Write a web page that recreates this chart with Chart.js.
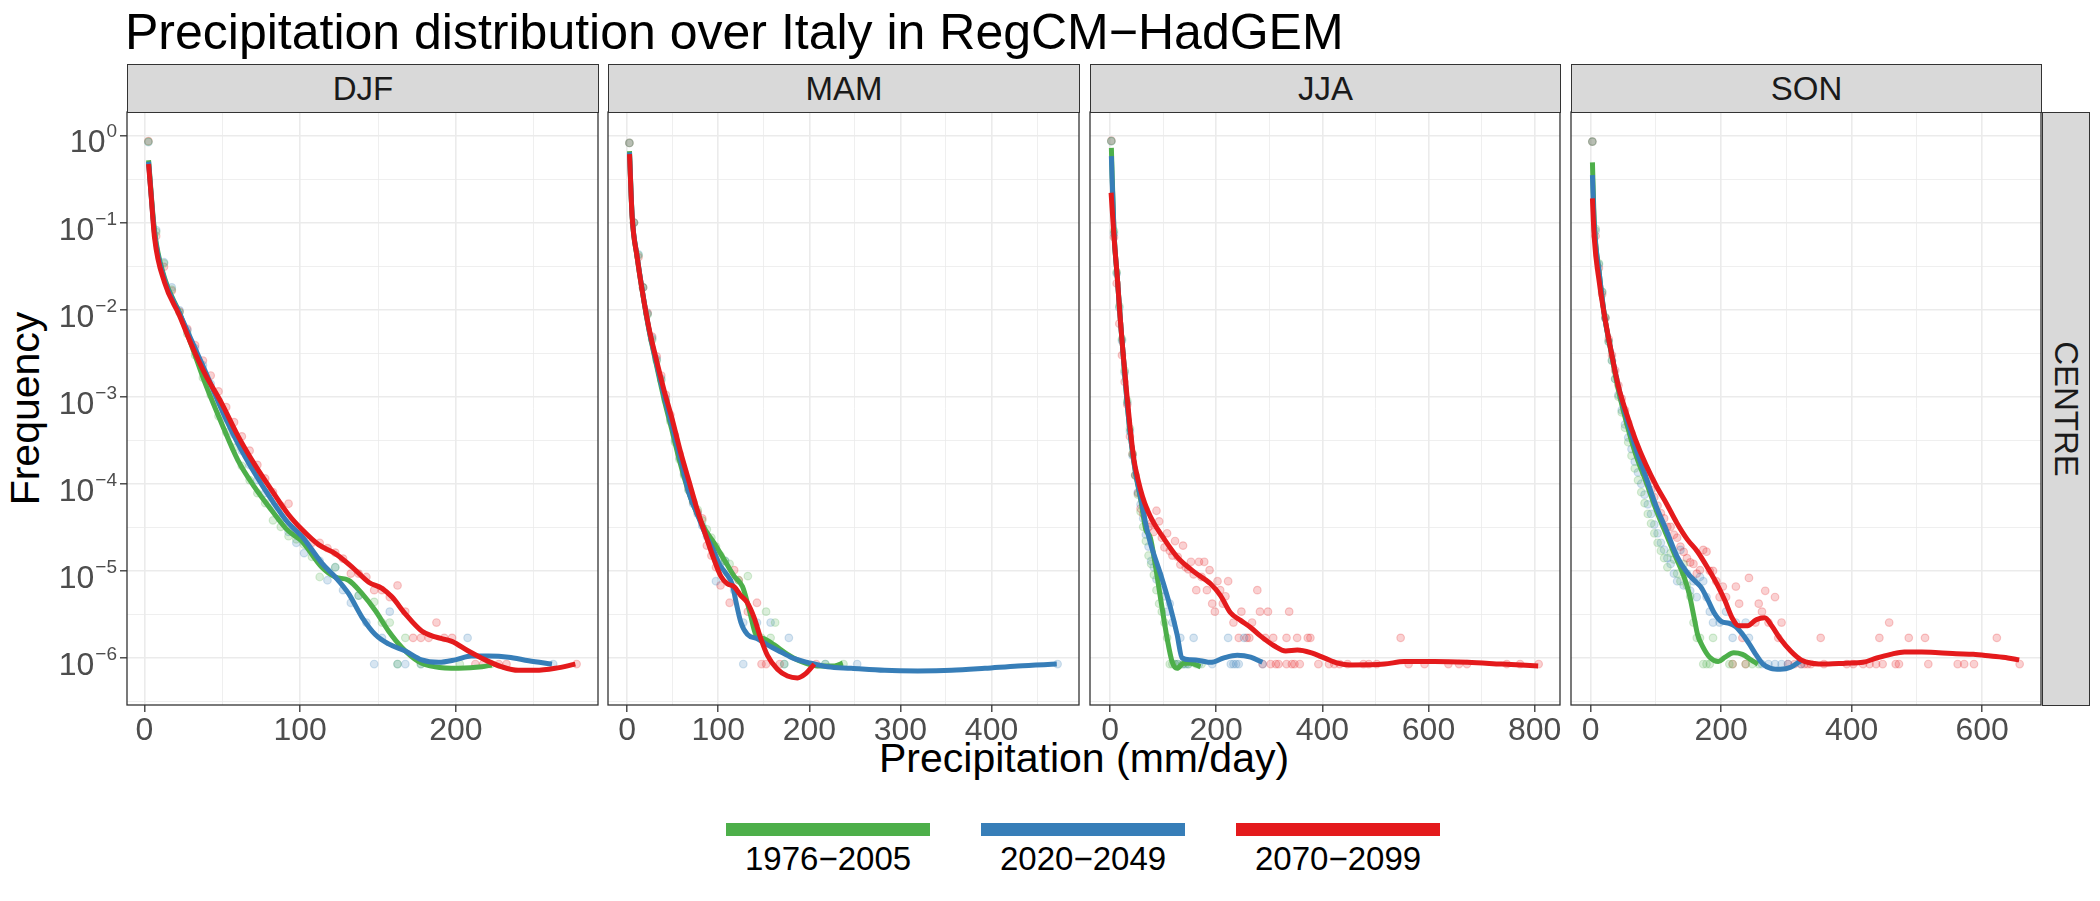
<!DOCTYPE html>
<html>
<head>
<meta charset="utf-8">
<script src="https://cdn.jsdelivr.net/npm/chart.js@4.4.1/dist/chart.umd.min.js"></script>
<style>
  body { margin: 0; background: #fff; width: 2100px; height: 901px; position: relative; overflow: hidden;
         font-family: "Liberation Sans", Arial, Helvetica, sans-serif; }
  .txt { position: absolute; white-space: nowrap; line-height: 1; }
  .strip { position: absolute; background: #d9d9d9; border: 1.3px solid #333; box-sizing: border-box;
           color: #1a1a1a; font-size: 33px; display: flex; align-items: center; justify-content: center; }
  .key { position: absolute; height: 13px; }
  canvas { position: absolute; }
</style>
</head>
<body>
<div class="txt" style="left:125px; top:7px; font-size:50px; color:#000;">Precipitation distribution over Italy in RegCM−HadGEM</div>
<div class="txt" id="ytitle" style="font-size:41px; color:#000;">Frequency</div>
<div class="txt" id="xtitle" style="font-size:41px; color:#000;">Precipitation (mm/day)</div>
<div class="strip" id="rowstrip"><span style="transform:rotate(90deg); display:inline-block;">CENTRE</span></div>

<script>
// --- données ---
const SEASONS = ["DJF", "MAM", "JJA", "SON"];
const PERIODS = ["1976−2005", "2020−2049", "2070−2099"];
const COLORS = ["#4DAF4A", "#377EB8", "#E41A1C"];
const Y_TICKS = [1, 1e-1, 1e-2, 1e-3, 1e-4, 1e-5, 1e-6];
const Y_EXPONENTS = ["0", "−1", "−2", "−3", "−4", "−5", "−6"];
const X_TICKS_DJF = [0, 100, 200];
const X_TICKS_MAM = [0, 100, 200, 300, 400];
const X_TICKS_JJA = [0, 200, 400, 600, 800];
const X_TICKS_SON = [0, 200, 400, 600];
const X_MINOR_DJF = [50, 150, 250];
const X_MINOR_MAM = [50, 150, 250, 350, 450];
const X_MINOR_JJA = [100, 300, 500, 700];
const X_MINOR_SON = [100, 300, 500];

// courbes lissées [mm/day, fréquence]
const djfGreenLine = [[2.6,0.52],[6.4,0.081],[12.9,0.0229],[22.5,0.0091],[31,3.55e-3],[38.6,1.48e-3],[49.4,5.0e-4],[60,1.86e-4],[70.8,9.1e-5],[81.5,5.0e-5],[92.3,2.88e-5],[100.9,2.2e-5],[113.9,1.1e-5],[122.5,8.5e-6],[131,7.8e-6],[139.6,5.5e-6],[148.2,3.5e-6],[156.7,2.04e-6],[165.3,1.32e-6],[176,9.1e-7],[186.7,7.9e-7],[201.7,7.6e-7],[216.7,7.9e-7],[223,8.3e-7]];
const djfBlueLine = [[2.6,0.50],[6.4,0.076],[12.9,0.0219],[22.5,0.0091],[30,4.5e-3],[38.6,2.04e-3],[49.4,7.2e-4],[60,2.9e-4],[70.8,1.32e-4],[81.5,6.6e-5],[92.3,3.55e-5],[101,2.5e-5],[113.9,1.23e-5],[122.5,8.5e-6],[131,5.5e-6],[139.6,2.95e-6],[148.2,1.86e-6],[156.7,1.45e-6],[167.5,1.2e-6],[178,9.5e-7],[188.9,8.9e-7],[199.6,9.5e-7],[210,1.05e-6],[221,1.05e-6],[233.8,1.02e-6],[246.7,9.3e-7],[261.7,8.5e-7]];
const djfRedLine = [[2.6,0.47],[4.3,0.2],[6.4,0.068],[12.9,0.0204],[22.5,0.0085],[30,4.0e-3],[38.6,1.86e-3],[49.4,8.5e-4],[60,3.55e-4],[70.8,1.66e-4],[81.5,8.5e-5],[92.3,4.47e-5],[101,3.0e-5],[111.8,2.0e-5],[122.5,1.58e-5],[133,1.12e-5],[144,7.4e-6],[152.5,6.3e-6],[159,5.0e-6],[167.5,3.2e-6],[178,2.04e-6],[186.7,1.74e-6],[197.4,1.55e-6],[208,1.2e-6],[218.8,9.5e-7],[229.5,7.9e-7],[240,7.2e-7],[251,7.2e-7],[263.8,7.6e-7],[276.7,8.5e-7]];

const mamGreenLine = [[2.6,0.66],[5.5,0.118],[11,0.040],[16.5,0.0166],[23.9,5.9e-3],[31.2,2.57e-3],[40.4,9.5e-4],[49.5,4.0e-4],[58.7,1.66e-4],[67.9,7.8e-5],[77,4.5e-5],[86.2,2.9e-5],[95.4,2.1e-5],[106.4,1.35e-5],[117.4,8.7e-6],[126.6,6.6e-6],[134,3.6e-6],[141.3,1.86e-6],[150.5,1.66e-6],[161.5,1.41e-6],[176,1.1e-6],[190.8,9.1e-7],[209,8.1e-7],[227.5,8.1e-7],[236.7,8.7e-7]];
const mamBlueLine = [[2.6,0.64],[5.5,0.12],[11,0.041],[16.5,0.017],[23.9,6.0e-3],[31.2,2.7e-3],[40.4,1.05e-3],[49.5,4.5e-4],[58.7,1.9e-4],[67.9,7.8e-5],[77,4.5e-5],[86.2,2.6e-5],[95.4,1.66e-5],[101,1.2e-5],[108,9.5e-6],[115.6,6.9e-6],[119.3,4.5e-6],[124.8,2.57e-6],[132,1.86e-6],[143,1.66e-6],[154,1.41e-6],[168.8,1.17e-6],[183.5,9.8e-7],[198,8.9e-7],[220,7.9e-7],[246,7.6e-7],[282.6,7.2e-7],[319,7.1e-7],[356,7.2e-7],[392.7,7.6e-7],[429,8.1e-7],[471.6,8.5e-7]];
const mamRedLine = [[2.6,0.61],[5.5,0.117],[11,0.040],[16.5,0.0166],[23.9,6.2e-3],[31.2,2.9e-3],[40.4,1.2e-3],[49.5,5.5e-4],[58.7,2.3e-4],[67.9,1.07e-4],[77,5.0e-5],[86.2,2.57e-5],[95.4,1.35e-5],[102.8,8.7e-6],[110,7.1e-6],[117.4,6.6e-6],[124.8,5.2e-6],[132,4.3e-6],[139.4,2.9e-6],[146.8,1.66e-6],[154,1.07e-6],[165,7.4e-7],[176,6.2e-7],[187,5.9e-7],[196,6.6e-7],[205.5,8.5e-7]];

const jjaGreenLine = [[2.5,0.72],[7.5,0.076],[13.8,0.023],[20,6.9e-3],[26.4,2.3e-3],[32.7,7.8e-4],[40.2,2.9e-4],[48.4,1.3e-4],[57.8,6.6e-5],[67.2,3.0e-5],[75.9,2.4e-5],[86,1.1e-5],[94.8,5.0e-6],[107.4,1.7e-6],[116.8,9.1e-7],[126.3,7.6e-7],[138.9,8.7e-7],[151.5,8.7e-7],[170.4,7.9e-7]];
const jjaBlueLine = [[2.5,0.58],[7.5,0.076],[13.8,0.023],[20,6.9e-3],[26.4,2.3e-3],[32.7,7.8e-4],[40.2,2.9e-4],[48.4,1.32e-4],[57.8,6.9e-5],[67.2,3.5e-5],[75.9,2.1e-5],[94.8,9.3e-6],[113.7,3.8e-6],[126.3,1.86e-6],[135.7,1.0e-6],[151.5,9.5e-7],[170.4,9.3e-7],[189.3,8.9e-7],[214.5,1.0e-6],[239.7,1.07e-6],[264.9,1.02e-6],[287,8.9e-7]];
const jjaRedLine = [[2,0.22],[7.5,0.068],[13.8,0.023],[18.8,8.5e-3],[24.5,3.2e-3],[30.8,1.2e-3],[37.7,4.5e-4],[45.2,1.86e-4],[52.7,1.12e-4],[61,7.2e-5],[70.3,5.0e-5],[82.9,3.5e-5],[94.8,2.7e-5],[126.3,1.45e-5],[157.8,9.8e-6],[189.3,7.1e-6],[208.2,5.2e-6],[227,3.3e-6],[246,2.7e-6],[264.9,2.24e-6],[283.8,1.78e-6],[309,1.38e-6],[331,1.2e-6],[353,1.23e-6],[378,1.15e-6],[403.5,1.0e-6],[428.7,8.7e-7],[453.9,8.3e-7],[516.9,8.5e-7],[554.6,9.1e-7],[611.3,9.1e-7],[674,8.9e-7],[737.3,8.5e-7],[806.6,8.1e-7]];

const sonGreenLine = [[2.6,0.49],[5.3,0.107],[13.2,0.0257],[21.1,8.5e-3],[31.7,3.1e-3],[42.3,1.2e-3],[55.5,4.8e-4],[68.7,2.2e-4],[84.5,1.07e-4],[100.4,5.0e-5],[116.2,2.57e-5],[132,1.35e-5],[142.6,8.7e-6],[150.6,5.6e-6],[158.5,2.9e-6],[163.8,1.86e-6],[171.7,1.35e-6],[182.3,1.02e-6],[195.5,9.1e-7],[206,1.02e-6],[219.2,1.15e-6],[232.5,1.1e-6],[245.7,9.5e-7],[256.3,8.5e-7]];
const sonBlueLine = [[2.6,0.35],[5.3,0.095],[13.2,0.0257],[21.1,8.5e-3],[31.7,3.2e-3],[42.3,1.32e-3],[55.5,5.5e-4],[68.7,2.57e-4],[84.5,1.2e-4],[100.4,5.5e-5],[116.2,2.9e-5],[132,1.48e-5],[148,9.5e-6],[158.5,7.8e-6],[169,6.5e-6],[179.7,4.6e-6],[190.2,3.2e-6],[200.8,2.6e-6],[212,2.5e-6],[222,2.3e-6],[232,1.9e-6],[243,1.45e-6],[253,1.1e-6],[264,8.5e-7],[276,7.6e-7],[290.6,7.4e-7],[306.5,7.8e-7],[322,9.3e-7]];
const sonRedLine = [[2.6,0.19],[5.3,0.068],[13.2,0.0204],[21.1,8.5e-3],[31.7,3.2e-3],[42.3,1.32e-3],[55.5,6.2e-4],[68.7,3.2e-4],[84.5,1.66e-4],[100.4,9.5e-5],[116.2,5.9e-5],[132,3.55e-5],[148,2.3e-5],[163.8,1.66e-5],[179.7,1.07e-5],[195.5,6.6e-6],[206,4.5e-6],[216.6,2.9e-6],[227,2.34e-6],[240.4,2.34e-6],[253.6,2.75e-6],[266.8,2.9e-6],[277.4,2.34e-6],[290.6,1.66e-6],[306.5,1.2e-6],[322.3,9.5e-7],[338.2,8.7e-7],[364.6,8.5e-7],[391,8.7e-7],[417.4,8.9e-7],[438.6,1.0e-6],[459.7,1.1e-6],[480.8,1.17e-6],[507.3,1.17e-6],[533.7,1.15e-6],[560,1.12e-6],[586.5,1.1e-6],[613,1.05e-6],[639.4,1.0e-6],[656.8,9.5e-7]];

// fréquences observées par classe de 5 mm/day
const djfGreenPts = [[2.5,0.85],[7.5,0.078],[12.5,0.034],[17.5,0.017],[22.5,0.0093],[27.5,5.3e-3],[32.5,3.0e-3],[37.5,1.65e-3],[42.5,1.05e-3],[47.5,6.0e-4],[52.5,3.9e-4],[57.5,2.6e-4],[62.5,1.6e-4],[67.5,1.1e-4],[72.5,7.8e-5],[77.5,6.0e-5],[82.5,3.8e-5],[87.5,3.2e-5],[92.5,2.5e-5],[97.5,2.3e-5],[102.5,2.0e-5],[107.5,1.45e-5],[112.5,8.5e-6],[122.5,1.1e-5],[137.5,5.2e-6],[147.5,4.4e-6],[152.5,2.55e-6],[157.5,2.55e-6],[162.5,8.5e-7],[167.5,1.7e-6],[177.5,8.5e-7],[202.5,8.5e-7],[222.5,8.5e-7]];
const djfBluePts = [[2.5,0.84],[7.5,0.082],[12.5,0.035],[17.5,0.018],[22.5,0.0098],[27.5,5.8e-3],[32.5,3.6e-3],[37.5,2.3e-3],[42.5,1.4e-3],[47.5,8.8e-4],[52.5,5.6e-4],[57.5,3.7e-4],[62.5,2.4e-4],[67.5,1.65e-4],[72.5,1.1e-4],[77.5,7.8e-5],[82.5,5.4e-5],[87.5,3.9e-5],[92.5,2.8e-5],[97.5,2.1e-5],[102.5,1.6e-5],[112.5,1.3e-5],[117.5,7.8e-6],[122.5,1.1e-5],[127.5,6.0e-6],[132.5,4.3e-6],[137.5,5.2e-6],[142.5,2.55e-6],[147.5,8.5e-7],[152.5,1.7e-6],[157.5,3.4e-6],[162.5,8.5e-7],[167.5,8.5e-7],[177.5,8.5e-7],[207.5,1.7e-6],[262.5,8.5e-7]];
const djfRedPts = [[2.5,0.86],[7.5,0.07],[12.5,0.031],[17.5,0.0165],[22.5,0.0095],[27.5,6.0e-3],[32.5,3.9e-3],[37.5,2.6e-3],[42.5,1.75e-3],[47.5,1.15e-3],[52.5,7.6e-4],[57.5,5.1e-4],[62.5,3.5e-4],[67.5,2.4e-4],[72.5,1.65e-4],[77.5,1.15e-4],[82.5,8.0e-5],[87.5,5.6e-5],[92.5,5.9e-5],[97.5,3.0e-5],[102.5,2.5e-5],[107.5,2.1e-5],[112.5,2.09e-5],[117.5,1.82e-5],[122.5,1.62e-5],[127.5,1.38e-5],[132.5,9.3e-6],[137.5,9.3e-6],[142.5,8.5e-6],[147.5,6.0e-6],[152.5,6.0e-6],[157.5,5.0e-6],[162.5,6.8e-6],[167.5,3.4e-6],[172.5,1.7e-6],[177.5,1.7e-6],[182.5,1.7e-6],[187.5,2.55e-6],[192.5,1.7e-6],[197.5,1.7e-6],[212.5,8.5e-7],[217.5,8.5e-7],[227.5,8.5e-7],[232.5,8.5e-7],[277.5,8.5e-7]];

const mamGreenPts = [[2.5,0.82],[7.5,0.1],[12.5,0.042],[17.5,0.018],[22.5,8.8e-3],[27.5,4.5e-3],[32.5,2.6e-3],[37.5,1.55e-3],[42.5,9.0e-4],[47.5,5.2e-4],[52.5,3.0e-4],[57.5,1.9e-4],[62.5,1.25e-4],[67.5,8.5e-5],[72.5,6.2e-5],[77.5,5.0e-5],[82.5,3.8e-5],[87.5,3.0e-5],[92.5,2.4e-5],[97.5,1.9e-5],[102.5,1.5e-5],[107.5,1.3e-5],[112.5,1.2e-5],[122.5,7.8e-6],[132.5,8.7e-6],[147.5,1.7e-6],[152.5,3.4e-6],[157.5,1.7e-6],[162.5,2.55e-6],[172.5,8.5e-7],[217.5,8.5e-7],[237.5,8.5e-7]];
const mamBluePts = [[2.5,0.82],[7.5,0.1],[12.5,0.043],[17.5,0.018],[22.5,9.0e-3],[27.5,4.7e-3],[32.5,2.7e-3],[37.5,1.6e-3],[42.5,9.5e-4],[47.5,5.5e-4],[52.5,3.2e-4],[57.5,2.0e-4],[62.5,1.3e-4],[67.5,8.5e-5],[72.5,5.9e-5],[77.5,4.5e-5],[82.5,3.3e-5],[87.5,2.5e-5],[92.5,1.9e-5],[97.5,7.6e-6],[102.5,1.2e-5],[107.5,1.3e-5],[117.5,6.0e-6],[127.5,2.55e-6],[127.5,8.5e-7],[142.5,2.55e-6],[157.5,2.55e-6],[172.5,8.5e-7],[177.5,1.7e-6],[217.5,8.5e-7],[252.5,8.5e-7],[472.5,8.5e-7]];
const mamRedPts = [[2.5,0.82],[7.5,0.1],[12.5,0.04],[17.5,0.018],[22.5,9.2e-3],[27.5,4.9e-3],[32.5,2.9e-3],[37.5,1.75e-3],[42.5,1.05e-3],[47.5,6.2e-4],[52.5,3.6e-4],[57.5,2.2e-4],[62.5,1.4e-4],[67.5,9.0e-5],[72.5,6.2e-5],[77.5,4.7e-5],[82.5,4.0e-5],[87.5,1.95e-5],[92.5,1.5e-5],[97.5,1.1e-5],[102.5,6.8e-6],[112.5,4.3e-6],[117.5,1.02e-5],[122.5,7.8e-6],[132.5,3.4e-6],[142.5,4.3e-6],[147.5,8.5e-7],[152.5,8.5e-7],[167.5,8.5e-7],[207.5,8.5e-7]];

const jjaGreenPts = [[2.5,0.86],[7.5,0.08],[12.5,0.027],[17.5,0.011],[22.5,4.6e-3],[27.5,2.0e-3],[32.5,9.0e-4],[37.5,4.3e-4],[42.5,2.2e-4],[47.5,1.25e-4],[52.5,7.5e-5],[57.5,4.8e-5],[62.5,3.2e-5],[67.5,2.2e-5],[72.5,1.5e-5],[77.5,1.2e-5],[82.5,9.0e-6],[87.5,6.0e-6],[92.5,4.2e-6],[97.5,3.4e-6],[102.5,2.55e-6],[107.5,1.7e-6],[112.5,8.5e-7],[117.5,8.5e-7],[122.5,8.5e-7],[127.5,8.5e-7],[137.5,8.5e-7],[147.5,8.5e-7],[162.5,8.5e-7],[172.5,8.5e-7]];
const jjaBluePts = [[2.5,0.86],[7.5,0.075],[12.5,0.026],[17.5,0.0105],[22.5,4.4e-3],[27.5,1.9e-3],[32.5,8.5e-4],[37.5,4.0e-4],[42.5,2.1e-4],[47.5,1.25e-4],[52.5,8.0e-5],[57.5,5.8e-5],[62.5,4.0e-5],[67.5,2.6e-5],[72.5,1.9e-5],[77.5,1.3e-5],[82.5,1.1e-5],[87.5,8.0e-6],[92.5,9.0e-6],[97.5,6.0e-6],[102.5,5.1e-6],[107.5,3.4e-6],[112.5,4.2e-6],[117.5,2.55e-6],[122.5,8.5e-7],[127.5,8.5e-7],[132.5,1.7e-6],[137.5,8.5e-7],[142.5,8.5e-7],[147.5,8.5e-7],[157.5,1.7e-6],[167.5,8.5e-7],[192.5,8.5e-7],[222.5,1.7e-6],[227.5,8.5e-7],[232.5,8.5e-7],[237.5,8.5e-7],[242.5,8.5e-7],[252.5,1.7e-6],[287.5,8.5e-7]];
const jjaRedPts = [[2.5,0.87],[7.5,0.068],[12.5,0.020],[17.5,6.9e-3],[22.5,3.0e-3],[27.5,1.48e-3],[32.5,8.1e-4],[37.5,3.5e-4],[42.5,2.2e-4],[47.5,1.26e-4],[52.5,7.8e-5],[57.5,5.2e-5],[62.5,4.5e-5],[67.5,5.0e-5],[72.5,3.2e-5],[77.5,3.5e-5],[82.5,2.8e-5],[87.5,4.9e-5],[92.5,3.7e-5],[97.5,2.4e-5],[102.5,1.86e-5],[107.5,2.7e-5],[112.5,1.7e-5],[117.5,1.5e-5],[122.5,2.2e-5],[127.5,1.45e-5],[132.5,1.18e-5],[137.5,1.95e-5],[142.5,1.1e-5],[147.5,1.04e-5],[152.5,1.27e-5],[157.5,9.1e-6],[162.5,6.0e-6],[167.5,1.27e-5],[172.5,8.5e-6],[177.5,1.27e-5],[182.5,6.0e-6],[187.5,1.02e-5],[192.5,4.2e-6],[197.5,3.4e-6],[202.5,7.6e-6],[207.5,6.0e-6],[212.5,4.2e-6],[217.5,5.1e-6],[222.5,7.6e-6],[232.5,2.55e-6],[242.5,1.7e-6],[247.5,3.4e-6],[257.5,1.7e-6],[262.5,1.7e-6],[267.5,2.55e-6],[277.5,6.0e-6],[282.5,3.4e-6],[287.5,8.5e-7],[292.5,1.7e-6],[297.5,3.4e-6],[302.5,8.5e-7],[307.5,1.7e-6],[312.5,8.5e-7],[317.5,8.5e-7],[332.5,1.7e-6],[332.5,8.5e-7],[337.5,3.4e-6],[342.5,8.5e-7],[347.5,8.5e-7],[352.5,1.7e-6],[357.5,8.5e-7],[372.5,1.7e-6],[377.5,1.7e-6],[392.5,8.5e-7],[412.5,8.5e-7],[422.5,8.5e-7],[432.5,8.5e-7],[447.5,8.5e-7],[477.5,8.5e-7],[487.5,8.5e-7],[502.5,8.5e-7],[547.5,1.7e-6],[562.5,8.5e-7],[592.5,8.5e-7],[637.5,8.5e-7],[657.5,8.5e-7],[672.5,8.5e-7],[747.5,8.5e-7],[772.5,8.5e-7],[807.5,8.5e-7]];

const sonGreenPts = [[2.5,0.85],[7.5,0.085],[12.5,0.034],[17.5,0.016],[22.5,8.2e-3],[27.5,4.3e-3],[32.5,2.6e-3],[37.5,1.6e-3],[42.5,1.0e-3],[47.5,6.6e-4],[52.5,4.4e-4],[57.5,3.0e-4],[62.5,2.1e-4],[67.5,1.5e-4],[72.5,1.1e-4],[77.5,8.0e-5],[82.5,6.0e-5],[87.5,4.5e-5],[92.5,3.5e-5],[97.5,2.7e-5],[102.5,2.1e-5],[107.5,1.7e-5],[112.5,1.4e-5],[117.5,1.1e-5],[122.5,1.6e-5],[127.5,1.35e-5],[132.5,9.3e-6],[137.5,7.6e-6],[142.5,1.2e-5],[147.5,6.8e-6],[152.5,5.1e-6],[157.5,2.55e-6],[162.5,1.7e-6],[167.5,1.7e-6],[172.5,8.5e-7],[177.5,8.5e-7],[182.5,8.5e-7],[187.5,1.7e-6],[212.5,8.5e-7],[217.5,8.5e-7],[237.5,8.5e-7],[247.5,8.5e-7],[257.5,8.5e-7]];
const sonBluePts = [[2.5,0.85],[7.5,0.08],[12.5,0.033],[17.5,0.016],[22.5,8.0e-3],[27.5,4.3e-3],[32.5,2.6e-3],[37.5,1.6e-3],[42.5,1.05e-3],[47.5,7.0e-4],[52.5,4.8e-4],[57.5,3.4e-4],[62.5,2.5e-4],[67.5,1.8e-4],[72.5,1.35e-4],[77.5,1.0e-4],[82.5,7.5e-5],[87.5,5.8e-5],[92.5,4.5e-5],[97.5,3.4e-5],[102.5,2.7e-5],[107.5,2.1e-5],[112.5,1.75e-5],[117.5,1.4e-5],[122.5,1.2e-5],[127.5,9.3e-6],[132.5,7.6e-6],[137.5,1.74e-5],[142.5,6.8e-6],[147.5,9.3e-6],[152.5,5.9e-6],[157.5,7.6e-6],[162.5,5.0e-6],[167.5,8.5e-6],[172.5,7.6e-6],[177.5,5.0e-6],[182.5,3.4e-6],[187.5,2.55e-6],[197.5,2.55e-6],[207.5,3.4e-6],[217.5,1.7e-6],[222.5,2.55e-6],[237.5,2.55e-6],[242.5,1.7e-6],[262.5,8.5e-7],[272.5,8.5e-7],[282.5,8.5e-7],[292.5,8.5e-7],[302.5,8.5e-7],[322.5,8.5e-7]];
const sonRedPts = [[2.5,0.85],[7.5,0.07],[12.5,0.03],[17.5,0.015],[22.5,8.0e-3],[27.5,4.6e-3],[32.5,3.0e-3],[37.5,2.0e-3],[42.5,1.35e-3],[47.5,9.5e-4],[52.5,7.0e-4],[57.5,5.0e-4],[62.5,3.8e-4],[67.5,2.9e-4],[72.5,2.2e-4],[77.5,1.7e-4],[82.5,1.35e-4],[87.5,1.05e-4],[92.5,8.5e-5],[97.5,7.0e-5],[102.5,5.6e-5],[107.5,4.6e-5],[112.5,4.0e-5],[117.5,3.2e-5],[122.5,3.2e-5],[127.5,2.6e-5],[132.5,2.4e-5],[137.5,1.9e-5],[142.5,1.65e-5],[147.5,1.4e-5],[152.5,1.25e-5],[157.5,1.2e-5],[162.5,9.3e-6],[167.5,1.02e-5],[172.5,1.74e-5],[177.5,1.66e-5],[182.5,1.0e-5],[187.5,1.0e-5],[192.5,7.6e-6],[197.5,5.0e-6],[202.5,6.6e-6],[207.5,5.0e-6],[217.5,8.5e-7],[222.5,6.6e-6],[227.5,4.2e-6],[232.5,1.7e-6],[237.5,8.5e-7],[242.5,8.3e-6],[252.5,2.55e-6],[257.5,4.2e-6],[262.5,3.4e-6],[267.5,5.9e-6],[272.5,2.55e-6],[282.5,5.0e-6],[287.5,1.7e-6],[292.5,2.55e-6],[302.5,8.5e-7],[312.5,8.5e-7],[322.5,8.5e-7],[327.5,8.5e-7],[332.5,8.5e-7],[337.5,8.5e-7],[352.5,1.7e-6],[357.5,8.5e-7],[392.5,8.5e-7],[402.5,8.5e-7],[417.5,8.5e-7],[427.5,8.5e-7],[437.5,8.5e-7],[442.5,1.7e-6],[447.5,8.5e-7],[457.5,2.55e-6],[467.5,8.5e-7],[472.5,8.5e-7],[487.5,1.7e-6],[512.5,1.7e-6],[517.5,8.5e-7],[562.5,8.5e-7],[572.5,8.5e-7],[587.5,8.5e-7],[622.5,1.7e-6],[657.5,8.5e-7]];

// --- mise en page ---
const FONT = '"Liberation Sans", Arial, Helvetica, sans-serif';
const PANEL_TOP = 112, PANEL_BOTTOM = 705;
const PANEL_LEFT = [127, 608, 1090, 1571];
const PANEL_RIGHT = [598, 1079, 1560, 2041];
const STRIP_TOP = 64;
const PAD_TOP = 12, PAD_RIGHT = 30, AXIS_H = 55;
const Y_MIN = 2.88e-7, Y_MAX = 1.86;

const panels = [
  { xMin: -11.25, xMax: 291.25, major: X_TICKS_DJF, minor: X_MINOR_DJF,
    lines: [djfGreenLine, djfBlueLine, djfRedLine], pts: [djfGreenPts, djfBluePts, djfRedPts] },
  { xMin: -21, xMax: 496, major: X_TICKS_MAM, minor: X_MINOR_MAM,
    lines: [mamGreenLine, mamBlueLine, mamRedLine], pts: [mamGreenPts, mamBluePts, mamRedPts] },
  { xMin: -37.75, xMax: 847.75, major: X_TICKS_JJA, minor: X_MINOR_JJA,
    lines: [jjaGreenLine, jjaBlueLine, jjaRedLine], pts: [jjaGreenPts, jjaBluePts, jjaRedPts] },
  { xMin: -30.25, xMax: 690.25, major: X_TICKS_SON, minor: X_MINOR_SON,
    lines: [sonGreenLine, sonBlueLine, sonRedLine], pts: [sonGreenPts, sonBluePts, sonRedPts] },
];

const rgba = (hex, a) => {
  const n = parseInt(hex.slice(1), 16);
  return `rgba(${n >> 16},${(n >> 8) & 255},${n & 255},${a})`;
};

// bordure du panneau (par-dessus les données, comme ggplot)
const panelBorder = {
  id: 'panelBorder',
  afterDraw(chart) {
    const { ctx, chartArea: a } = chart;
    ctx.save();
    ctx.strokeStyle = '#333333';
    ctx.lineWidth = 1.3;
    ctx.strokeRect(a.left, a.top, a.right - a.left, a.bottom - a.top);
    ctx.restore();
  }
};

// étiquettes 10^n avec exposant
const powerLabels = {
  id: 'powerLabels',
  afterDraw(chart) {
    const { ctx } = chart;
    const y = chart.scales.y;
    const right = chart.chartArea.left - 10;
    ctx.save();
    ctx.fillStyle = '#4D4D4D';
    ctx.textAlign = 'left';
    ctx.textBaseline = 'alphabetic';
    Y_TICKS.forEach((v, i) => {
      const py = y.getPixelForValue(v);
      ctx.font = `19px ${FONT}`;
      const wExp = ctx.measureText(Y_EXPONENTS[i]).width;
      ctx.font = `32px ${FONT}`;
      const wBase = ctx.measureText('10').width;
      const x0 = right - wExp - wBase - 1;
      ctx.fillText('10', x0, py + 17);
      ctx.font = `19px ${FONT}`;
      ctx.fillText(Y_EXPONENTS[i], x0 + wBase + 1, py + 2);
    });
    ctx.restore();
  }
};

const yMinor = Y_TICKS.map(v => v / Math.sqrt(10));

panels.forEach((p, idx) => {
  const leftW = idx === 0 ? PANEL_LEFT[0] : 30;
  const canvas = document.createElement('canvas');
  const cLeft = PANEL_LEFT[idx] - leftW;
  const cw = PANEL_RIGHT[idx] + PAD_RIGHT - cLeft;
  const ch = (PANEL_BOTTOM - PANEL_TOP) + PAD_TOP + AXIS_H;
  canvas.width = cw; canvas.height = ch;
  canvas.style.left = cLeft + 'px';
  canvas.style.top = (PANEL_TOP - PAD_TOP) + 'px';
  canvas.style.width = cw + 'px';
  canvas.style.height = ch + 'px';
  document.body.appendChild(canvas);

  // strip du haut
  const strip = document.createElement('div');
  strip.className = 'strip';
  strip.style.left = PANEL_LEFT[idx] + 'px';
  strip.style.top = STRIP_TOP + 'px';
  strip.style.width = (PANEL_RIGHT[idx] - PANEL_LEFT[idx] + 1) + 'px';
  strip.style.height = (PANEL_TOP - STRIP_TOP + 1) + 'px';
  strip.textContent = SEASONS[idx];
  document.body.appendChild(strip);

  const datasets = [];
  p.pts.forEach((pts, s) => {
    datasets.push({
      type: 'scatter', label: PERIODS[s] + ' pts', order: 10 + s,
      data: pts.map(([x, y]) => ({ x, y })),
      pointRadius: 3.8, pointBorderWidth: 1.2,
      pointBackgroundColor: rgba(COLORS[s], 0.2), pointBorderColor: rgba(COLORS[s], 0.22)
    });
  });
  p.lines.forEach((ln, s) => {
    datasets.push({
      type: 'line', label: PERIODS[s], order: 3 - s,
      data: ln.map(([x, y]) => ({ x, y })),
      borderColor: COLORS[s], borderWidth: 5, pointRadius: 0, fill: false,
      cubicInterpolationMode: 'monotone'
    });
  });

  const xAll = [...p.major, ...p.minor].sort((a, b) => a - b);
  const yAll = [...Y_TICKS, ...yMinor].sort((a, b) => a - b);
  const isMajX = v => p.major.includes(v);
  const isMajY = v => Y_TICKS.some(t => Math.abs(Math.log10(t) - Math.log10(v)) < 1e-6);

  new Chart(canvas, {
    type: 'scatter',
    data: { datasets },
    options: {
      responsive: false, animation: false, events: [],
      layout: { padding: { top: PAD_TOP, right: PAD_RIGHT, left: 0, bottom: 0 } },
      plugins: { legend: { display: false }, tooltip: { enabled: false } },
      scales: {
        x: {
          type: 'linear', min: p.xMin, max: p.xMax,
          afterBuildTicks: s => { s.ticks = xAll.map(v => ({ value: v })); },
          afterFit: s => { s.height = AXIS_H; },
          border: { display: false },
          grid: {
            color: '#EBEBEB',
            lineWidth: c => (c.tick && isMajX(c.tick.value)) ? 1.6 : 0.8,
            tickLength: 7, tickWidth: 1.3,
            tickColor: c => (c.tick && isMajX(c.tick.value)) ? '#333333' : 'rgba(0,0,0,0)'
          },
          ticks: {
            autoSkip: false, maxRotation: 0, minRotation: 0, padding: 0, color: '#4D4D4D',
            font: { family: FONT, size: 32 },
            callback: v => isMajX(v) ? String(v) : ''
          }
        },
        y: {
          type: 'logarithmic', min: Y_MIN, max: Y_MAX,
          afterBuildTicks: s => { s.ticks = yAll.map(v => ({ value: v })); },
          afterFit: s => { s.width = leftW; },
          border: { display: false },
          grid: {
            color: '#EBEBEB',
            lineWidth: c => (c.tick && isMajY(c.tick.value)) ? 1.6 : 0.8,
            drawTicks: idx === 0, tickLength: 7, tickWidth: 1.3,
            tickColor: c => (c.tick && isMajY(c.tick.value)) ? '#333333' : 'rgba(0,0,0,0)'
          },
          ticks: { display: false }
        }
      }
    },
    plugins: idx === 0 ? [panelBorder, powerLabels] : [panelBorder]
  });
});

// strip de droite
const rs = document.getElementById('rowstrip');
rs.style.left = (PANEL_RIGHT[3] + 1) + 'px';
rs.style.top = PANEL_TOP + 'px';
rs.style.width = '48px';
rs.style.height = (PANEL_BOTTOM - PANEL_TOP + 1) + 'px';

// titres d'axes
const xt = document.getElementById('xtitle');
xt.style.top = '738px';
xt.style.left = ((PANEL_LEFT[0] + PANEL_RIGHT[3]) / 2 - xt.offsetWidth / 2) + 'px';
const yt = document.getElementById('ytitle');
yt.style.left = (26 - yt.offsetWidth / 2) + 'px';
yt.style.top = ((PANEL_TOP + PANEL_BOTTOM) / 2 - yt.offsetHeight / 2) + 'px';
yt.style.transform = 'rotate(-90deg)';

// légende (clé au-dessus, libellé en dessous)
const KEY_LEFT = [726, 981, 1236], KEY_W = 204;
PERIODS.forEach((lab, s) => {
  const k = document.createElement('div');
  k.className = 'key';
  k.style.left = KEY_LEFT[s] + 'px';
  k.style.top = '823px';
  k.style.width = KEY_W + 'px';
  k.style.background = COLORS[s];
  document.body.appendChild(k);
  const t = document.createElement('div');
  t.className = 'txt';
  t.style.fontSize = '33px';
  t.style.color = '#000';
  t.style.top = '842px';
  t.textContent = lab;
  document.body.appendChild(t);
  t.style.left = (KEY_LEFT[s] + KEY_W / 2 - t.offsetWidth / 2) + 'px';
});
</script>
</body>
</html>
